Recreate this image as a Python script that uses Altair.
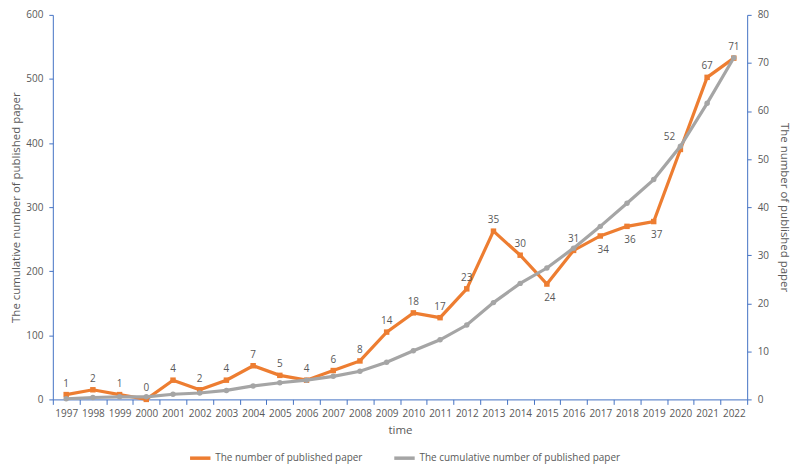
import altair as alt
import pandas as pd

years = [str(y) for y in range(1997, 2023)]
papers = [1, 2, 1, 0, 4, 2, 4, 7, 5, 4, 6, 8, 14, 18, 17, 23, 35, 30, 24, 31, 34, 36, 37, 52, 67, 71]
cumulative = [1, 3, 4, 4, 8, 10, 14, 21, 26, 30, 36, 44, 58, 76, 93, 116, 151, 181, 205, 236, 270, 306, 343, 395, 462, 533]
series_names = ["The number of published paper", "The cumulative number of published paper"]
series_colors = ["#ED7D31", "#A5A5A5"]

df = pd.DataFrame({
    "year": years,
    "papers": papers,
    "cumulative": cumulative,
    "s_num": series_names[0],
    "s_cum": series_names[1],
})

FONT = "Open Sans"
TXT = "#595959"
AXC = "#4472C4"

color_scale = alt.Scale(domain=series_names, range=series_colors)

x = alt.X(
    "year:O",
    scale=alt.Scale(type="band", paddingInner=0, paddingOuter=0),
    bandPosition=0.5,
    axis=alt.Axis(
        title="time", labelAngle=0, tickBand="extent", domainColor=AXC, tickColor=AXC,
        labelColor=TXT, titleColor=TXT, labelFont=FONT, titleFont=FONT,
        labelFontSize=10, titleFontSize=11.5, titleFontWeight="normal", tickSize=5,
        labelPadding=4, titlePadding=6,
    ),
)

base = alt.Chart(df)

y_num = alt.Y(
    "papers:Q",
    scale=alt.Scale(domain=[0, 80], nice=False),
    axis=alt.Axis(
        orient="right", title="The number of published paper", values=list(range(0, 81, 10)),
        grid=False, domainColor=AXC, tickColor=AXC, labelColor=TXT, titleColor=TXT,
        labelFont=FONT, titleFont=FONT, labelFontSize=10, titleFontSize=11.5,
        titleFontWeight="normal", tickSize=4, labelPadding=6, titlePadding=10,
    ),
)
y_cum = alt.Y(
    "cumulative:Q",
    scale=alt.Scale(domain=[0, 600], nice=False),
    axis=alt.Axis(
        orient="left", title="The cumulative number of published paper", values=list(range(0, 601, 100)),
        grid=False, domainColor=AXC, tickColor=AXC, labelColor=TXT, titleColor=TXT,
        labelFont=FONT, titleFont=FONT, labelFontSize=10, titleFontSize=11.5,
        titleFontWeight="normal", tickSize=4, labelPadding=6, titlePadding=4,
    ),
)

legend = alt.Legend(
    title=None, orient="none", legendX=136, legendY=433, direction="horizontal",
    symbolType="stroke", symbolStrokeWidth=3.5, symbolSize=420, labelFont=FONT,
    labelFontSize=10, labelColor=TXT, columnPadding=24, labelLimit=400, labelOffset=3,
)

BELOW = "indexof(['2015','2017','2018','2019'], datum.year) >= 0"
SIDE = "datum.year == '2020'"

num_line = base.mark_line(strokeWidth=3.2).encode(
    x=x, y=y_num, color=alt.Color("s_num:N", scale=color_scale, legend=legend)
)
num_pts = base.mark_point(shape="square", filled=True, size=30, opacity=1, color=series_colors[0]).encode(
    x=x, y=y_num
)
num_txt_above = base.transform_filter(
    f"!({BELOW}) && !({SIDE})"
).mark_text(dy=-11, font=FONT, fontSize=10, color=TXT).encode(x=x, y=y_num, text="papers:Q")
num_txt_below = base.transform_filter(BELOW).mark_text(
    dy=14, dx=3, font=FONT, fontSize=10, color=TXT
).encode(x=x, y=y_num, text="papers:Q")
num_txt_side = base.transform_filter(SIDE).mark_text(
    dy=-12, dx=-11, font=FONT, fontSize=10, color=TXT
).encode(x=x, y=y_num, text="papers:Q")

num_layer = alt.layer(num_line, num_pts, num_txt_above, num_txt_below, num_txt_side)

cum_line = base.mark_line(strokeWidth=3.2).encode(
    x=x, y=y_cum, color=alt.Color("s_cum:N", scale=color_scale, legend=legend)
)
cum_pts = base.mark_point(shape="circle", filled=True, size=30, opacity=1, color=series_colors[1]).encode(
    x=x, y=y_cum
)
cum_layer = alt.layer(cum_line, cum_pts)

chart = (
    alt.layer(num_layer, cum_layer)
    .resolve_scale(y="independent")
    .properties(
        width=697, height=386,
        autosize=alt.AutoSizeParams(type="none"),
        padding={"left": 45, "top": 6, "right": 45, "bottom": 74},
        background="white",
    )
    .configure_view(stroke=None)
)

chart.save("out.html", embed_options={"renderer": "svg", "actions": False})
